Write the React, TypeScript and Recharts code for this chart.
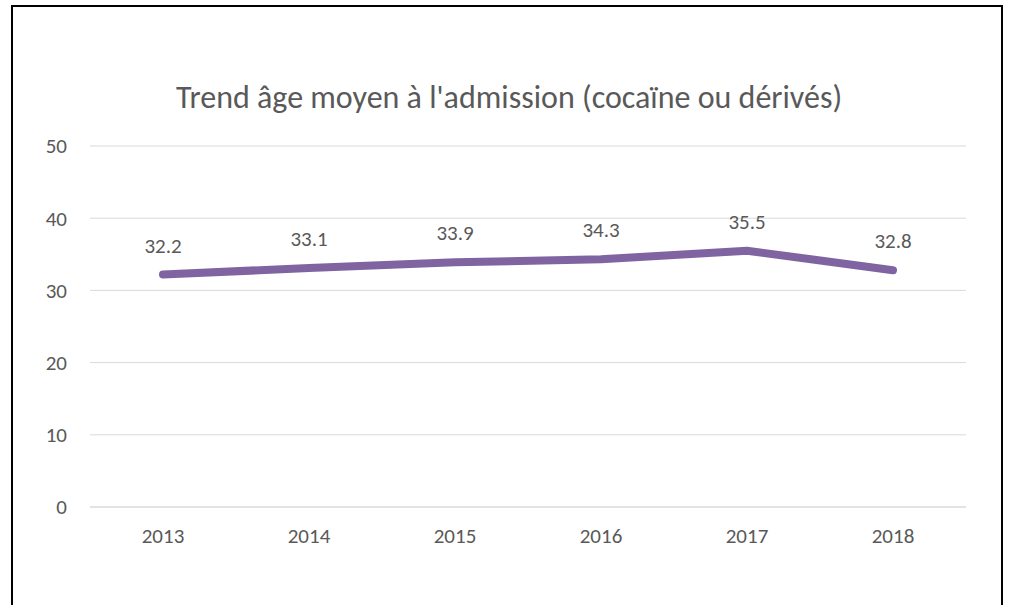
import React from "react";
import {
  LineChart,
  Line,
  XAxis,
  YAxis,
  CartesianGrid,
  LabelList,
} from "recharts";

const years = ["2013", "2014", "2015", "2016", "2017", "2018"];
const meanAge = [32.2, 33.1, 33.9, 34.3, 35.5, 32.8];
const yTicks = [0, 10, 20, 30, 40, 50];

const data = years.map((year, i) => ({ year, age: meanAge[i] }));

const FONT = "Carlito, Calibri, Lato, 'Open Sans', sans-serif";
const TEXT = "#595959";

export default function App() {
  return (
    <div
      style={{
        position: "absolute",
        left: 0,
        top: 0,
        width: 1009,
        height: 605,
        overflow: "hidden",
        background: "white",
        fontFamily: FONT,
      }}
    >
      <div
        style={{
          position: "absolute",
          left: 11,
          top: 5,
          width: 988,
          height: 640,
          border: "2px solid #000",
        }}
      />
      <div
        style={{
          position: "absolute",
          left: 0,
          top: 78,
          width: 1018,
          textAlign: "center",
          fontSize: 32,
          color: TEXT,
        }}
      >
        Trend âge moyen à l'admission (cocaïne ou dérivés)
      </div>
      <div style={{ position: "absolute", left: 0, top: 0 }}>
        <LineChart
          width={1009}
          height={605}
          data={data}
          margin={{ top: 146, right: 43, bottom: 38, left: 0 }}
        >
          <CartesianGrid vertical={false} stroke="#d9d9d9" />
          <XAxis
            dataKey="year"
            axisLine={{ stroke: "#d9d9d9" }}
            tickLine={false}
            tickSize={0}
            tickMargin={21}
            height={60}
            padding={{ left: 73, right: 73 }}
            tick={{ fill: TEXT, fontSize: 21, fontFamily: FONT }}
          />
          <YAxis
            domain={[0, 50]}
            ticks={yTicks}
            axisLine={false}
            tickLine={false}
            tickSize={0}
            tickMargin={23}
            width={90}
            tick={{ fill: TEXT, fontSize: 21, fontFamily: FONT }}
          />
          <Line
            type="linear"
            dataKey="age"
            stroke="#8064A2"
            strokeWidth={8}
            strokeLinecap="round"
            strokeLinejoin="round"
            dot={false}
            isAnimationActive={false}
          >
            <LabelList
              dataKey="age"
              position="top"
              offset={22}
              fill={TEXT}
              fontSize={21}
              fontFamily={FONT}
            />
          </Line>
        </LineChart>
      </div>
    </div>
  );
}
